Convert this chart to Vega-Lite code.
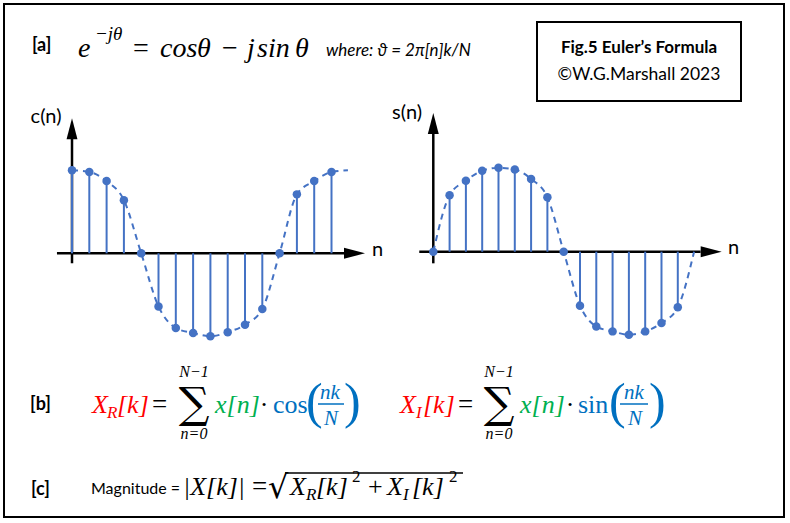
{
  "$schema": "https://vega.github.io/schema/vega-lite/v6.json",
  "width": 790,
  "height": 523,
  "autosize": {"type": "fit", "contains": "padding"},
  "padding": {"left": 4, "top": 4, "right": 6, "bottom": 6},
  "background": "white",
  "config": {
    "view": {"stroke": "black", "strokeWidth": 2},
    "style": {
      "lbl": {"font": "Lato", "fontSize": 18, "fontWeight": "bold", "fill": "black", "align": "left", "baseline": "alphabetic"},
      "sans": {"font": "Lato", "fontSize": 18, "fill": "black", "align": "left", "baseline": "alphabetic"},
      "mi": {"font": "Liberation Serif", "fontStyle": "italic", "fontSize": 26, "fill": "black", "align": "left", "baseline": "alphabetic"},
      "mr": {"font": "Liberation Serif", "fontSize": 26, "fill": "black", "align": "left", "baseline": "alphabetic"},
      "ms": {"font": "Liberation Serif", "fontStyle": "italic", "fontSize": 17, "fill": "black", "align": "left", "baseline": "alphabetic"}
    }
  },
  "datasets": {
    "cos": [
      {"n": 0, "v": 1.0, "sampled": true},
      {"n": 1, "v": 0.98, "sampled": true},
      {"n": 2, "v": 0.87, "sampled": true},
      {"n": 3, "v": 0.64, "sampled": true},
      {"n": 4, "v": 0.0, "sampled": true},
      {"n": 5, "v": -0.64, "sampled": true},
      {"n": 6, "v": -0.9, "sampled": true},
      {"n": 7, "v": -0.96, "sampled": true},
      {"n": 8, "v": -1.0, "sampled": true},
      {"n": 9, "v": -0.95, "sampled": true},
      {"n": 10, "v": -0.86, "sampled": true},
      {"n": 11, "v": -0.67, "sampled": true},
      {"n": 12, "v": 0.0, "sampled": true},
      {"n": 13, "v": 0.71, "sampled": true},
      {"n": 14, "v": 0.87, "sampled": true},
      {"n": 15, "v": 0.98, "sampled": true},
      {"n": 15.95, "v": 1.0, "sampled": false}
    ],
    "sin": [
      {"n": 0, "v": 0.0, "sampled": true},
      {"n": 1, "v": 0.68, "sampled": true},
      {"n": 2, "v": 0.855, "sampled": true},
      {"n": 3, "v": 0.976, "sampled": true},
      {"n": 4, "v": 1.01, "sampled": true},
      {"n": 5, "v": 0.99, "sampled": true},
      {"n": 6, "v": 0.876, "sampled": true},
      {"n": 7, "v": 0.655, "sampled": true},
      {"n": 8, "v": 0.0, "sampled": true},
      {"n": 9, "v": -0.65, "sampled": true},
      {"n": 10, "v": -0.9, "sampled": true},
      {"n": 11, "v": -0.96, "sampled": true},
      {"n": 12, "v": -1.0, "sampled": true},
      {"n": 13, "v": -0.96, "sampled": true},
      {"n": 14, "v": -0.86, "sampled": true},
      {"n": 15, "v": -0.67, "sampled": true},
      {"n": 16, "v": 0.0, "sampled": false}
    ]
  },
  "resolve": {"scale": {"x": "independent", "y": "independent"}},
  "layer": [
    {
      "encoding": {
        "x": {"type": "quantitative", "scale": {"domain": [-3.931, 41.156], "nice": false, "zero": false}, "axis": null},
        "y": {"type": "quantitative", "scale": {"domain": [-3.1771, 3.0036], "nice": false, "zero": false}, "axis": null}
      },
      "layer": [
        {"data": {"values": [{"axis": "n"}]}, "mark": {"type": "rule", "color": "black", "strokeWidth": 2.5},
         "encoding": {"x": {"datum": -0.87}, "x2": {"datum": 15.75}, "y": {"datum": 0}}},
        {"data": {"values": [{"axis": "c(n)"}]}, "mark": {"type": "rule", "color": "black", "strokeWidth": 2.5},
         "encoding": {"x": {"datum": 0}, "y": {"datum": -0.12}, "y2": {"datum": 1.4}}},
        {"data": {"values": [{"axis": "n"}]}, "mark": {"type": "point", "shape": "M-1,-0.52L1,0L-1,0.52Z", "filled": true, "color": "black", "opacity": 1, "size": 441, "strokeWidth": 0},
         "encoding": {"x": {"datum": 16.33}, "y": {"datum": 0}}},
        {"data": {"values": [{"axis": "c(n)"}]}, "mark": {"type": "point", "shape": "M-0.52,1L0,-1L0.52,1Z", "filled": true, "color": "black", "opacity": 1, "size": 441, "strokeWidth": 0},
         "encoding": {"x": {"datum": 0}, "y": {"datum": 1.5}}},
        {"data": {"name": "cos"}, "mark": {"type": "line", "interpolate": "monotone", "strokeDash": [6, 5], "strokeWidth": 2, "color": "#4472C4"},
         "encoding": {"x": {"field": "n"}, "y": {"field": "v"}}},
        {"data": {"name": "cos"}, "transform": [{"filter": "datum.sampled"}], "mark": {"type": "rule", "strokeWidth": 2, "color": "#4472C4"},
         "encoding": {"x": {"field": "n"}, "y": {"field": "v"}, "y2": {"datum": 0}}},
        {"data": {"name": "cos"}, "transform": [{"filter": "datum.sampled"}], "mark": {"type": "circle", "size": 72, "opacity": 1, "color": "#4472C4"},
         "encoding": {"x": {"field": "n"}, "y": {"field": "v"}}},
        {"data": {"values": [{"t": "c(n)"}]}, "mark": {"type": "text", "style": "sans", "align": "center", "fontSize": 20},
         "encoding": {"x": {"datum": -1.5}, "y": {"datum": 1.57}, "text": {"field": "t"}}},
        {"data": {"values": [{"t": "n"}]}, "mark": {"type": "text", "style": "sans", "fontSize": 20},
         "encoding": {"x": {"datum": 17.34}, "y": {"datum": -0.03}, "text": {"field": "t"}}}
      ]
    },
    {
      "encoding": {
        "x": {"type": "quantitative", "scale": {"domain": [-26.337, 21.516], "nice": false, "zero": false}, "axis": null},
        "y": {"type": "quantitative", "scale": {"domain": [-3.1964, 2.9843], "nice": false, "zero": false}, "axis": null}
      },
      "layer": [
        {"data": {"values": [{"axis": "n"}]}, "mark": {"type": "rule", "color": "black", "strokeWidth": 2.5},
         "encoding": {"x": {"datum": -0.86}, "x2": {"datum": 16.4}, "y": {"datum": 0}}},
        {"data": {"values": [{"axis": "s(n)"}]}, "mark": {"type": "rule", "color": "black", "strokeWidth": 2.5},
         "encoding": {"x": {"datum": 0}, "y": {"datum": -0.14}, "y2": {"datum": 1.43}}},
        {"data": {"values": [{"axis": "n"}]}, "mark": {"type": "point", "shape": "M-1,-0.52L1,0L-1,0.52Z", "filled": true, "color": "black", "opacity": 1, "size": 441, "strokeWidth": 0},
         "encoding": {"x": {"datum": 17.05}, "y": {"datum": 0}}},
        {"data": {"values": [{"axis": "s(n)"}]}, "mark": {"type": "point", "shape": "M-0.52,1L0,-1L0.52,1Z", "filled": true, "color": "black", "opacity": 1, "size": 441, "strokeWidth": 0},
         "encoding": {"x": {"datum": 0}, "y": {"datum": 1.545}}},
        {"data": {"name": "sin"}, "mark": {"type": "line", "interpolate": "monotone", "strokeDash": [6, 5], "strokeWidth": 2, "color": "#4472C4"},
         "encoding": {"x": {"field": "n"}, "y": {"field": "v"}}},
        {"data": {"name": "sin"}, "transform": [{"filter": "datum.sampled"}], "mark": {"type": "rule", "strokeWidth": 2, "color": "#4472C4"},
         "encoding": {"x": {"field": "n"}, "y": {"field": "v"}, "y2": {"datum": 0}}},
        {"data": {"name": "sin"}, "transform": [{"filter": "datum.sampled"}], "mark": {"type": "circle", "size": 72, "opacity": 1, "color": "#4472C4"},
         "encoding": {"x": {"field": "n"}, "y": {"field": "v"}}},
        {"data": {"values": [{"t": "s(n)"}]}, "mark": {"type": "text", "style": "sans", "align": "center", "fontSize": 20},
         "encoding": {"x": {"datum": -1.61}, "y": {"datum": 1.6}, "text": {"field": "t"}}},
        {"data": {"values": [{"t": "n"}]}, "mark": {"type": "text", "style": "sans", "fontSize": 20},
         "encoding": {"x": {"datum": 18.08}, "y": {"datum": -0.03}, "text": {"field": "t"}}}
      ]
    },
    {
      "encoding": {
        "x": {"type": "quantitative", "scale": {"domain": [0, 78], "nice": false, "zero": false}, "axis": null},
        "y": {"type": "quantitative", "scale": {"domain": [0, 51.3], "nice": false, "zero": false, "reverse": true}, "axis": null}
      },
      "layer": [
        {"data": {"values": [{"box": "caption"}]}, "mark": {"type": "rect", "fillOpacity": 0, "fill": "white", "stroke": "black", "strokeWidth": 2},
         "encoding": {"x": {"datum": 53.3}, "x2": {"datum": 73.7}, "y": {"datum": 1.8}, "y2": {"datum": 9.7}}},
        {"data": {"values": [{"t": "Fig.5 Euler’s Formula"}]}, "mark": {"type": "text", "style": "lbl", "align": "center", "fontSize": 17},
         "encoding": {"x": {"datum": 63.5}, "y": {"datum": 4.9}, "text": {"field": "t"}}},
        {"data": {"values": [{"t": "©W.G.Marshall 2023"}]}, "mark": {"type": "text", "style": "sans", "align": "center", "fontSize": 17.5},
         "encoding": {"x": {"datum": 63.5}, "y": {"datum": 7.6}, "text": {"field": "t"}}},

        {"data": {"values": [{"t": "[a]"}]}, "mark": {"type": "text", "style": "lbl"},
         "encoding": {"x": {"datum": 2.8}, "y": {"datum": 4.7}, "text": {"field": "t"}}},
        {"data": {"values": [{"t": "e"}]}, "mark": {"type": "text", "style": "mi", "fontSize": 28},
         "encoding": {"x": {"datum": 7.4}, "y": {"datum": 5.3}, "text": {"field": "t"}}},
        {"data": {"values": [{"t": "−jθ"}]}, "mark": {"type": "text", "style": "ms", "fontSize": 19},
         "encoding": {"x": {"datum": 9.1}, "y": {"datum": 3.6}, "text": {"field": "t"}}},
        {"data": {"values": [{"t": "="}]}, "mark": {"type": "text", "style": "mr", "fontSize": 28},
         "encoding": {"x": {"datum": 12.9}, "y": {"datum": 5.3}, "text": {"field": "t"}}},
        {"data": {"values": [{"t": "cos"}]}, "mark": {"type": "text", "style": "mi", "fontSize": 28},
         "encoding": {"x": {"datum": 15.6}, "y": {"datum": 5.3}, "text": {"field": "t"}}},
        {"data": {"values": [{"t": "θ"}]}, "mark": {"type": "text", "style": "mi", "fontSize": 28},
         "encoding": {"x": {"datum": 19.3}, "y": {"datum": 5.3}, "text": {"field": "t"}}},
        {"data": {"values": [{"t": "−"}]}, "mark": {"type": "text", "style": "mr", "fontSize": 28},
         "encoding": {"x": {"datum": 21.8}, "y": {"datum": 5.3}, "text": {"field": "t"}}},
        {"data": {"values": [{"t": "j"}]}, "mark": {"type": "text", "style": "mi", "fontSize": 28},
         "encoding": {"x": {"datum": 24.3}, "y": {"datum": 5.3}, "text": {"field": "t"}}},
        {"data": {"values": [{"t": "sin"}]}, "mark": {"type": "text", "style": "mi", "fontSize": 28},
         "encoding": {"x": {"datum": 25.3}, "y": {"datum": 5.3}, "text": {"field": "t"}}},
        {"data": {"values": [{"t": "θ"}]}, "mark": {"type": "text", "style": "mi", "fontSize": 28},
         "encoding": {"x": {"datum": 29.1}, "y": {"datum": 5.3}, "text": {"field": "t"}}},
        {"data": {"values": [{"t": "where: ϑ = 2π[n]k/N"}]}, "mark": {"type": "text", "style": "sans", "fontStyle": "italic", "fontSize": 17},
         "encoding": {"x": {"datum": 32.2}, "y": {"datum": 5.2}, "text": {"field": "t"}}},

        {"data": {"values": [{"t": "[b]"}]}, "mark": {"type": "text", "style": "lbl"},
         "encoding": {"x": {"datum": 2.6}, "y": {"datum": 40.6}, "text": {"field": "t"}}},
        {"data": {"values": [{"t": "X"}]}, "mark": {"type": "text", "style": "mi", "fill": "#FF0000"},
         "encoding": {"x": {"datum": 8.8}, "y": {"datum": 40.9}, "text": {"field": "t"}}},
        {"data": {"values": [{"t": "R"}]}, "mark": {"type": "text", "style": "ms", "fill": "#FF0000"},
         "encoding": {"x": {"datum": 10.3}, "y": {"datum": 41.4}, "text": {"field": "t"}}},
        {"data": {"values": [{"t": "[k]"}]}, "mark": {"type": "text", "style": "mi", "fill": "#FF0000"},
         "encoding": {"x": {"datum": 11.3}, "y": {"datum": 40.9}, "text": {"field": "t"}}},
        {"data": {"values": [{"t": "="}]}, "mark": {"type": "text", "style": "mr", "fontSize": 27},
         "encoding": {"x": {"datum": 14.8}, "y": {"datum": 40.9}, "text": {"field": "t"}}},
        {"data": {"values": [{"t": "∑"}]}, "mark": {"type": "text", "style": "mr", "font": "DejaVu Serif", "align": "center", "fontSize": 43},
         "encoding": {"x": {"datum": 19.0}, "y": {"datum": 41.4}, "text": {"field": "t"}}},
        {"data": {"values": [{"t": "N−1"}]}, "mark": {"type": "text", "style": "ms", "align": "center", "fontSize": 16},
         "encoding": {"x": {"datum": 19.0}, "y": {"datum": 37.3}, "text": {"field": "t"}}},
        {"data": {"values": [{"t": "n=0"}]}, "mark": {"type": "text", "style": "ms", "align": "center", "fontSize": 16},
         "encoding": {"x": {"datum": 19.0}, "y": {"datum": 43.5}, "text": {"field": "t"}}},
        {"data": {"values": [{"t": "x[n]"}]}, "mark": {"type": "text", "style": "mi", "fill": "#00B050"},
         "encoding": {"x": {"datum": 21.1}, "y": {"datum": 40.9}, "text": {"field": "t"}}},
        {"data": {"values": [{"t": "·"}]}, "mark": {"type": "text", "style": "mr", "align": "center"},
         "encoding": {"x": {"datum": 26.0}, "y": {"datum": 40.9}, "text": {"field": "t"}}},
        {"data": {"values": [{"t": "cos"}]}, "mark": {"type": "text", "style": "mr", "fill": "#0070C0"},
         "encoding": {"x": {"datum": 26.9}, "y": {"datum": 40.9}, "text": {"field": "t"}}},
        {"data": {"values": [{"t": "("}]}, "mark": {"type": "text", "style": "mr", "fill": "#0070C0", "fontSize": 50},
         "encoding": {"x": {"datum": 30.2}, "y": {"datum": 41.4}, "text": {"field": "t"}}},
        {"data": {"values": [{"t": "nk"}]}, "mark": {"type": "text", "style": "mi", "fill": "#0070C0", "align": "center", "fontSize": 21},
         "encoding": {"x": {"datum": 32.6}, "y": {"datum": 39.5}, "text": {"field": "t"}}},
        {"data": {"values": [{"bar": "fraction"}]}, "mark": {"type": "rule", "color": "#0070C0", "strokeWidth": 1.5},
         "encoding": {"x": {"datum": 31.4}, "x2": {"datum": 34.0}, "y": {"datum": 40.0}}},
        {"data": {"values": [{"t": "N"}]}, "mark": {"type": "text", "style": "mi", "fill": "#0070C0", "align": "center", "fontSize": 21},
         "encoding": {"x": {"datum": 32.7}, "y": {"datum": 42.1}, "text": {"field": "t"}}},
        {"data": {"values": [{"t": ")"}]}, "mark": {"type": "text", "style": "mr", "fill": "#0070C0", "fontSize": 50},
         "encoding": {"x": {"datum": 34.0}, "y": {"datum": 41.4}, "text": {"field": "t"}}},

        {"data": {"values": [{"t": "X"}]}, "mark": {"type": "text", "style": "mi", "fill": "#FF0000"},
         "encoding": {"x": {"datum": 39.6}, "y": {"datum": 40.9}, "text": {"field": "t"}}},
        {"data": {"values": [{"t": "I"}]}, "mark": {"type": "text", "style": "ms", "fill": "#FF0000"},
         "encoding": {"x": {"datum": 41.2}, "y": {"datum": 41.4}, "text": {"field": "t"}}},
        {"data": {"values": [{"t": "[k]"}]}, "mark": {"type": "text", "style": "mi", "fill": "#FF0000"},
         "encoding": {"x": {"datum": 41.9}, "y": {"datum": 40.9}, "text": {"field": "t"}}},
        {"data": {"values": [{"t": "="}]}, "mark": {"type": "text", "style": "mr", "fontSize": 27},
         "encoding": {"x": {"datum": 45.4}, "y": {"datum": 40.9}, "text": {"field": "t"}}},
        {"data": {"values": [{"t": "∑"}]}, "mark": {"type": "text", "style": "mr", "font": "DejaVu Serif", "align": "center", "fontSize": 43},
         "encoding": {"x": {"datum": 49.5}, "y": {"datum": 41.4}, "text": {"field": "t"}}},
        {"data": {"values": [{"t": "N−1"}]}, "mark": {"type": "text", "style": "ms", "align": "center", "fontSize": 16},
         "encoding": {"x": {"datum": 49.5}, "y": {"datum": 37.3}, "text": {"field": "t"}}},
        {"data": {"values": [{"t": "n=0"}]}, "mark": {"type": "text", "style": "ms", "align": "center", "fontSize": 16},
         "encoding": {"x": {"datum": 49.5}, "y": {"datum": 43.5}, "text": {"field": "t"}}},
        {"data": {"values": [{"t": "x[n]"}]}, "mark": {"type": "text", "style": "mi", "fill": "#00B050"},
         "encoding": {"x": {"datum": 51.6}, "y": {"datum": 40.9}, "text": {"field": "t"}}},
        {"data": {"values": [{"t": "·"}]}, "mark": {"type": "text", "style": "mr", "align": "center"},
         "encoding": {"x": {"datum": 56.6}, "y": {"datum": 40.9}, "text": {"field": "t"}}},
        {"data": {"values": [{"t": "sin"}]}, "mark": {"type": "text", "style": "mr", "fill": "#0070C0"},
         "encoding": {"x": {"datum": 57.4}, "y": {"datum": 40.9}, "text": {"field": "t"}}},
        {"data": {"values": [{"t": "("}]}, "mark": {"type": "text", "style": "mr", "fill": "#0070C0", "fontSize": 50},
         "encoding": {"x": {"datum": 60.5}, "y": {"datum": 41.4}, "text": {"field": "t"}}},
        {"data": {"values": [{"t": "nk"}]}, "mark": {"type": "text", "style": "mi", "fill": "#0070C0", "align": "center", "fontSize": 21},
         "encoding": {"x": {"datum": 63.0}, "y": {"datum": 39.5}, "text": {"field": "t"}}},
        {"data": {"values": [{"bar": "fraction"}]}, "mark": {"type": "rule", "color": "#0070C0", "strokeWidth": 1.5},
         "encoding": {"x": {"datum": 61.6}, "x2": {"datum": 64.4}, "y": {"datum": 40.0}}},
        {"data": {"values": [{"t": "N"}]}, "mark": {"type": "text", "style": "mi", "fill": "#0070C0", "align": "center", "fontSize": 21},
         "encoding": {"x": {"datum": 63.1}, "y": {"datum": 42.1}, "text": {"field": "t"}}},
        {"data": {"values": [{"t": ")"}]}, "mark": {"type": "text", "style": "mr", "fill": "#0070C0", "fontSize": 50},
         "encoding": {"x": {"datum": 64.5}, "y": {"datum": 41.4}, "text": {"field": "t"}}},

        {"data": {"values": [{"t": "[c]"}]}, "mark": {"type": "text", "style": "lbl"},
         "encoding": {"x": {"datum": 2.7}, "y": {"datum": 49.1}, "text": {"field": "t"}}},
        {"data": {"values": [{"t": "Magnitude ="}]}, "mark": {"type": "text", "style": "sans", "fontSize": 16},
         "encoding": {"x": {"datum": 8.7}, "y": {"datum": 49.0}, "text": {"field": "t"}}},
        {"data": {"values": [{"t": "|X[k]|"}]}, "mark": {"type": "text", "style": "mi"},
         "encoding": {"x": {"datum": 17.9}, "y": {"datum": 49.1}, "text": {"field": "t"}}},
        {"data": {"values": [{"t": "="}]}, "mark": {"type": "text", "style": "mr", "fontSize": 27},
         "encoding": {"x": {"datum": 24.8}, "y": {"datum": 49.1}, "text": {"field": "t"}}},
        {"data": {"values": [{"t": "√"}]}, "mark": {"type": "text", "style": "mr", "font": "DejaVu Serif", "fontSize": 32},
         "encoding": {"x": {"datum": 26.4}, "y": {"datum": 49.4}, "text": {"field": "t"}}},
        {"data": {"values": [{"bar": "radical"}]}, "mark": {"type": "rule", "color": "black", "strokeWidth": 1.5},
         "encoding": {"x": {"datum": 28.1}, "x2": {"datum": 45.9}, "y": {"datum": 46.9}}},
        {"data": {"values": [{"t": "X"}]}, "mark": {"type": "text", "style": "mi"},
         "encoding": {"x": {"datum": 28.6}, "y": {"datum": 49.1}, "text": {"field": "t"}}},
        {"data": {"values": [{"t": "R"}]}, "mark": {"type": "text", "style": "ms"},
         "encoding": {"x": {"datum": 30.2}, "y": {"datum": 49.6}, "text": {"field": "t"}}},
        {"data": {"values": [{"t": "[k]"}]}, "mark": {"type": "text", "style": "mi"},
         "encoding": {"x": {"datum": 31.2}, "y": {"datum": 49.1}, "text": {"field": "t"}}},
        {"data": {"values": [{"t": "2"}]}, "mark": {"type": "text", "style": "ms", "fontStyle": "normal"},
         "encoding": {"x": {"datum": 34.8}, "y": {"datum": 47.8}, "text": {"field": "t"}}},
        {"data": {"values": [{"t": "+"}]}, "mark": {"type": "text", "style": "mr"},
         "encoding": {"x": {"datum": 36.4}, "y": {"datum": 49.1}, "text": {"field": "t"}}},
        {"data": {"values": [{"t": "X"}]}, "mark": {"type": "text", "style": "mi"},
         "encoding": {"x": {"datum": 38.3}, "y": {"datum": 49.1}, "text": {"field": "t"}}},
        {"data": {"values": [{"t": "I"}]}, "mark": {"type": "text", "style": "ms"},
         "encoding": {"x": {"datum": 39.9}, "y": {"datum": 49.6}, "text": {"field": "t"}}},
        {"data": {"values": [{"t": "[k]"}]}, "mark": {"type": "text", "style": "mi"},
         "encoding": {"x": {"datum": 40.8}, "y": {"datum": 49.1}, "text": {"field": "t"}}},
        {"data": {"values": [{"t": "2"}]}, "mark": {"type": "text", "style": "ms", "fontStyle": "normal"},
         "encoding": {"x": {"datum": 44.5}, "y": {"datum": 47.8}, "text": {"field": "t"}}}
      ]
    }
  ]
}
